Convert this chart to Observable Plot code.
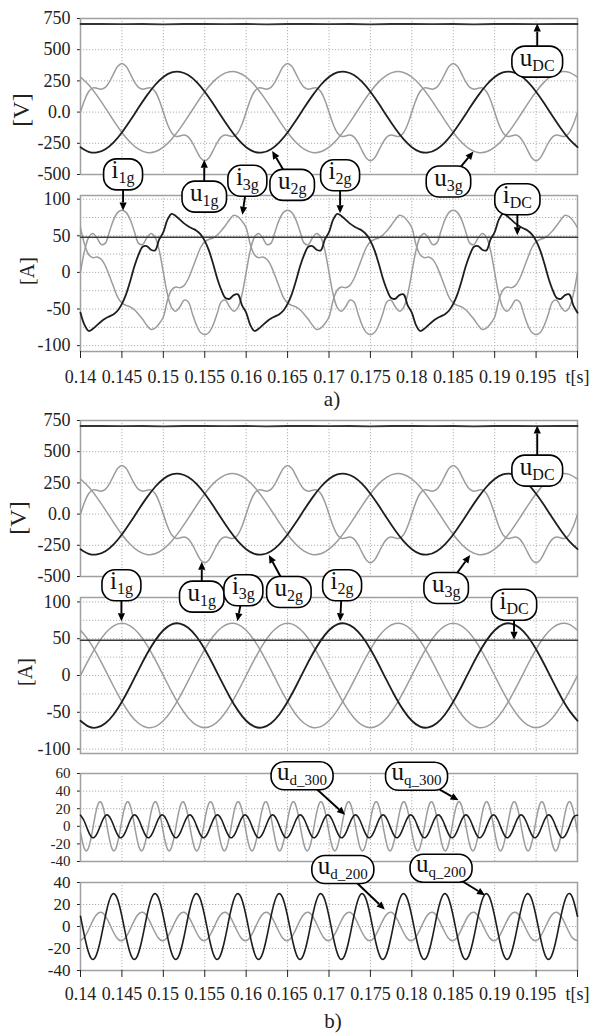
<!DOCTYPE html>
<html><head><meta charset="utf-8">
<script src="https://cdn.jsdelivr.net/npm/d3@7"></script>
<script src="https://cdn.jsdelivr.net/npm/@observablehq/plot@0.6"></script>
<style>
body{margin:0;background:#fff;}
#root{position:relative;width:590px;height:1035px;background:#fff;overflow:hidden;font-family:"Liberation Serif","Times New Roman","DejaVu Serif",serif;}
#root svg{position:absolute;left:0;}
#root svg text{font-family:"Liberation Serif","Times New Roman","DejaVu Serif",serif !important;}
</style></head><body><div id="root"></div>
<script>
// ---------- ticks ----------
const xTicks = [0.14,0.145,0.15,0.155,0.16,0.165,0.17,0.175,0.18,0.185,0.19,0.195,0.2];
const xTickLabels = ["0.14","0.145","0.15","0.155","0.16","0.165","0.17","0.175","0.18","0.185","0.19","0.195","t[s]"];
const vTicks = [-500,-250,0,250,500,750];
const aTicks = [-100,-50,0,50,100];
const aGrid = [-100,-75,-50,-25,0,25,50,75,100];
const s300Ticks = [-40,-20,0,20,40,60];
const s200Ticks = [-40,-20,0,20,40];

// ---------- grid voltages [V], panel a and b (sampled every 0.5 ms / 1 ms from t=0.14 s) ----------
const u1g = [0,97,165,194,191,184,198,244,309,367,390,367,309,244,198,184,191,194,165,97,0,-97,-165,-194,-191,-184,-198,-244,-309,-367,-390,-367,-309,-244,-198,-184,-191,-194,-165,-97,
0,97,165,194,191,184,198,244,309,367,390,367,309,244,198,184,191,194,165,97,0,-97,-165,-194,-191,-184,-198,-244,-309,-367,-390,-367,-309,-244,-198,-184,-191,-194,-165,-97,
0,97,165,194,191,184,198,244,309,367,390,367,309,244,198,184,191,194,165,97,0,-97,-165,-194,-191,-184,-198,-244,-309,-367,-390,-367,-309,-244,-198,-184,-191,-194,-165,-97,0];
const u2g = [-281,-318,-323,-297,-242,-163,-68,34,132,217,281,318,323,297,242,163,68,-34,-132,-217,
-281,-318,-323,-297,-242,-163,-68,34,132,217,281,318,323,297,242,163,68,-34,-132,-217,
-281,-318,-323,-297,-242,-163,-68,34,132,217,281,318,323,297,242,163,68,-34,-132,-217,-281];
const u3g = [281,217,132,34,-68,-163,-242,-297,-323,-318,-281,-217,-132,-34,68,163,242,297,323,318,
281,217,132,34,-68,-163,-242,-297,-323,-318,-281,-217,-132,-34,68,163,242,297,323,318,
281,217,132,34,-68,-163,-242,-297,-323,-318,-281,-217,-132,-34,68,163,242,297,323,318,281];
const uDC = [706,706,705,706,703,706,706,705,706,703,706,706,705,706,703,706,706,705,706,703,706,706,705,706,706];

// ---------- grid currents [A], panel a (every 0.5 ms) ----------
const i1gA = [0,30,48,53,47,38,40,56,72,82,85,82,72,56,40,38,47,53,48,30,0,-30,-48,-53,-47,-38,-40,-56,-72,-82,-85,-82,-72,-56,-40,-38,-47,-53,-48,-30,
0,30,48,53,47,38,40,56,72,82,85,82,72,56,40,38,47,53,48,30,0,-30,-48,-53,-47,-38,-40,-56,-72,-82,-85,-82,-72,-56,-40,-38,-47,-53,-48,-30,
0,30,48,53,47,38,40,56,72,82,85,82,72,56,40,38,47,53,48,30,0,-30,-48,-53,-47,-38,-40,-56,-72,-82,-85,-82,-72,-56,-40,-38,-47,-53,-48,-30,0];
const i2gA = [-55,-72,-80,-77,-72,-67,-63,-60,-57,-52,-43,-30,-12,8,24,35,36,31,30,45,55,72,80,77,72,67,63,60,57,52,43,30,12,-8,-24,-35,-36,-31,-30,-45,
-55,-72,-80,-77,-72,-67,-63,-60,-57,-52,-43,-30,-12,8,24,35,36,31,30,45,55,72,80,77,72,67,63,60,57,52,43,30,12,-8,-24,-35,-36,-31,-30,-45,
-55,-72,-80,-77,-72,-67,-63,-60,-57,-52,-43,-30,-12,8,24,35,36,31,30,45,55,72,80,77,72,67,63,60,57,52,43,30,12,-8,-24,-35,-36,-31,-30,-45,-55];
const i3gA = [61,38,24,20,21,18,9,-5,-20,-34,-42,-45,-47,-51,-57,-64,-72,-78,-76,-70,-61,-38,-24,-20,-21,-18,-9,5,20,34,42,45,47,51,57,64,72,78,76,70,
61,38,24,20,21,18,9,-5,-20,-34,-42,-45,-47,-51,-57,-64,-72,-78,-76,-70,-61,-38,-24,-20,-21,-18,-9,5,20,34,42,45,47,51,57,64,72,78,76,70,
61,38,24,20,21,18,9,-5,-20,-34,-42,-45,-47,-51,-57,-64,-72,-78,-76,-70,-61,-38,-24,-20,-21,-18,-9,5,20,34,42,45,47,51,57,64,72,78,76,70,61];
const iDC = [48,48];

// ---------- grid currents [A], panel b (every 1 ms) ----------
const i1gB = [0,21.9,41.7,57.4,67.5,71,67.5,57.4,41.7,21.9,0,-21.9,-41.7,-57.4,-67.5,-71,-67.5,-57.4,-41.7,-21.9,
0,21.9,41.7,57.4,67.5,71,67.5,57.4,41.7,21.9,0,-21.9,-41.7,-57.4,-67.5,-71,-67.5,-57.4,-41.7,-21.9,
0,21.9,41.7,57.4,67.5,71,67.5,57.4,41.7,21.9,0,-21.9,-41.7,-57.4,-67.5,-71,-67.5,-57.4,-41.7,-21.9,0];
const i2gB = [-61.5,-69.5,-70.6,-64.9,-52.9,-35.6,-14.9,7.4,28.8,47.4,61.5,69.5,70.6,64.9,52.9,35.6,14.9,-7.4,-28.8,-47.4,
-61.5,-69.5,-70.6,-64.9,-52.9,-35.6,-14.9,7.4,28.8,47.4,61.5,69.5,70.6,64.9,52.9,35.6,14.9,-7.4,-28.8,-47.4,
-61.5,-69.5,-70.6,-64.9,-52.9,-35.6,-14.9,7.4,28.8,47.4,61.5,69.5,70.6,64.9,52.9,35.6,14.9,-7.4,-28.8,-47.4,-61.5];
const i3gB = [61.5,47.4,28.8,7.4,-14.9,-35.6,-52.9,-64.9,-70.6,-69.5,-61.5,-47.4,-28.8,-7.4,14.9,35.6,52.9,64.9,70.6,69.5,
61.5,47.4,28.8,7.4,-14.9,-35.6,-52.9,-64.9,-70.6,-69.5,-61.5,-47.4,-28.8,-7.4,14.9,35.6,52.9,64.9,70.6,69.5,
61.5,47.4,28.8,7.4,-14.9,-35.6,-52.9,-64.9,-70.6,-69.5,-61.5,-47.4,-28.8,-7.4,14.9,35.6,52.9,64.9,70.6,69.5,61.5];

// ---------- 300 Hz components (every 1/2400 s) ----------
const ud300 = [12.6,6.6,-3.2,-11.2,-12.6,-6.6,3.2,11.2, 12.6,6.6,-3.2,-11.2,-12.6,-6.6,3.2,11.2, 12.6,6.6,-3.2,-11.2,-12.6,-6.6,3.2,11.2,
12.6,6.6,-3.2,-11.2,-12.6,-6.6,3.2,11.2, 12.6,6.6,-3.2,-11.2,-12.6,-6.6,3.2,11.2, 12.6,6.6,-3.2,-11.2,-12.6,-6.6,3.2,11.2,
12.6,6.6,-3.2,-11.2,-12.6,-6.6,3.2,11.2, 12.6,6.6,-3.2,-11.2,-12.6,-6.6,3.2,11.2, 12.6,6.6,-3.2,-11.2,-12.6,-6.6,3.2,11.2,
12.6,6.6,-3.2,-11.2,-12.6,-6.6,3.2,11.2, 12.6,6.6,-3.2,-11.2,-12.6,-6.6,3.2,11.2, 12.6,6.6,-3.2,-11.2,-12.6,-6.6,3.2,11.2,
12.6,6.6,-3.2,-11.2,-12.6,-6.6,3.2,11.2, 12.6,6.6,-3.2,-11.2,-12.6,-6.6,3.2,11.2, 12.6,6.6,-3.2,-11.2,-12.6,-6.6,3.2,11.2,
12.6,6.6,-3.2,-11.2,-12.6,-6.6,3.2,11.2, 12.6,6.6,-3.2,-11.2,-12.6,-6.6,3.2,11.2, 12.6,6.6,-3.2,-11.2,-12.6,-6.6,3.2,11.2, 12.6];
const uq300 = [-7,-24.1,-27.1,-14.3,7,24.1,27.1,14.3, -7,-24.1,-27.1,-14.3,7,24.1,27.1,14.3, -7,-24.1,-27.1,-14.3,7,24.1,27.1,14.3,
-7,-24.1,-27.1,-14.3,7,24.1,27.1,14.3, -7,-24.1,-27.1,-14.3,7,24.1,27.1,14.3, -7,-24.1,-27.1,-14.3,7,24.1,27.1,14.3,
-7,-24.1,-27.1,-14.3,7,24.1,27.1,14.3, -7,-24.1,-27.1,-14.3,7,24.1,27.1,14.3, -7,-24.1,-27.1,-14.3,7,24.1,27.1,14.3,
-7,-24.1,-27.1,-14.3,7,24.1,27.1,14.3, -7,-24.1,-27.1,-14.3,7,24.1,27.1,14.3, -7,-24.1,-27.1,-14.3,7,24.1,27.1,14.3,
-7,-24.1,-27.1,-14.3,7,24.1,27.1,14.3, -7,-24.1,-27.1,-14.3,7,24.1,27.1,14.3, -7,-24.1,-27.1,-14.3,7,24.1,27.1,14.3,
-7,-24.1,-27.1,-14.3,7,24.1,27.1,14.3, -7,-24.1,-27.1,-14.3,7,24.1,27.1,14.3, -7,-24.1,-27.1,-14.3,7,24.1,27.1,14.3, -7];

// ---------- 200 Hz components (every 1/1600 s) ----------
const uq200 = [9.3,-13.6,-28.5,-26.7,-9.3,13.6,28.5,26.7, 9.3,-13.6,-28.5,-26.7,-9.3,13.6,28.5,26.7, 9.3,-13.6,-28.5,-26.7,-9.3,13.6,28.5,26.7,
9.3,-13.6,-28.5,-26.7,-9.3,13.6,28.5,26.7, 9.3,-13.6,-28.5,-26.7,-9.3,13.6,28.5,26.7, 9.3,-13.6,-28.5,-26.7,-9.3,13.6,28.5,26.7,
9.3,-13.6,-28.5,-26.7,-9.3,13.6,28.5,26.7, 9.3,-13.6,-28.5,-26.7,-9.3,13.6,28.5,26.7, 9.3,-13.6,-28.5,-26.7,-9.3,13.6,28.5,26.7,
9.3,-13.6,-28.5,-26.7,-9.3,13.6,28.5,26.7, 9.3,-13.6,-28.5,-26.7,-9.3,13.6,28.5,26.7, 9.3,-13.6,-28.5,-26.7,-9.3,13.6,28.5,26.7, 9.3];
const ud200 = [-12.9,-8,1.6,10.2,12.9,8,-1.6,-10.2, -12.9,-8,1.6,10.2,12.9,8,-1.6,-10.2, -12.9,-8,1.6,10.2,12.9,8,-1.6,-10.2,
-12.9,-8,1.6,10.2,12.9,8,-1.6,-10.2, -12.9,-8,1.6,10.2,12.9,8,-1.6,-10.2, -12.9,-8,1.6,10.2,12.9,8,-1.6,-10.2,
-12.9,-8,1.6,10.2,12.9,8,-1.6,-10.2, -12.9,-8,1.6,10.2,12.9,8,-1.6,-10.2, -12.9,-8,1.6,10.2,12.9,8,-1.6,-10.2,
-12.9,-8,1.6,10.2,12.9,8,-1.6,-10.2, -12.9,-8,1.6,10.2,12.9,8,-1.6,-10.2, -12.9,-8,1.6,10.2,12.9,8,-1.6,-10.2, -12.9];

// ---------- annotations ----------
const labels = [
  {p:0, m:"u", s:"DC", tip:[0.1952, 705], dx:0, dy:38},
  {p:1, m:"i", s:"1g", tip:[0.1452, 84], dx:0, dy:-36},
  {p:0, m:"u", s:"1g", tip:[0.155, -385], dx:0, dy:37},
  {p:1, m:"i", s:"3g", tip:[0.1596, 78], dx:5, dy:-34},
  {p:0, m:"u", s:"2g", tip:[0.1632, -315], dx:20, dy:34},
  {p:1, m:"i", s:"2g", tip:[0.1714, 80], dx:0, dy:-38},
  {p:0, m:"u", s:"3g", tip:[0.1875, -320], dx:-25, dy:30},
  {p:1, m:"i", s:"DC", tip:[0.1928, 50], dx:0, dy:-36},
  {p:2, m:"u", s:"DC", tip:[0.1952, 705], dx:0, dy:45},
  {p:3, m:"i", s:"1g", tip:[0.1450, 73], dx:0, dy:-36},
  {p:2, m:"u", s:"1g", tip:[0.1547, -385], dx:0, dy:35},
  {p:3, m:"i", s:"3g", tip:[0.1590, 73], dx:6, dy:-31},
  {p:2, m:"u", s:"2g", tip:[0.1628, -332], dx:20, dy:37},
  {p:3, m:"i", s:"2g", tip:[0.1714, 73], dx:2, dy:-36},
  {p:2, m:"u", s:"3g", tip:[0.1871, -332], dx:-24, dy:33},
  {p:3, m:"i", s:"DC", tip:[0.1924, 48], dx:0, dy:-35},
  {p:4, m:"u", s:"d_300", tip:[0.172, 12.5], dx:-43, dy:-39},
  {p:4, m:"u", s:"q_300", tip:[0.1857, 29], dx:-42, dy:-24},
  {p:5, m:"u", s:"d_200", tip:[0.1768, 15], dx:-42, dy:-40},
  {p:5, m:"u", s:"q_200", tip:[0.1889, 28], dx:-44, dy:-27}
];

// ---------- rendering ----------
const FONT = '"Liberation Serif","Times New Roman","DejaVu Serif",serif';
const BLACK = "#1e1e1e", GRAY = "#9c9c9c";
const rows = (vals, t0, dt) => vals.map((v, i) => ({t: t0 + i * dt, v}));
const lbl = new Map(xTicks.map((d, i) => [d, xTickLabels[i]]));
const hy = d => String(d).replace("\u2212", "-");

const root = document.getElementById("root");
const panels = [];

function panel({top, bottom, domain, ticks, grid, fmt, lines, xAxis, pad, fs = 18}) {
  const mt = 12, mb = xAxis ? 45 : 12;
  const marks = [
    Plot.gridX(xTicks.slice(1, -1), {stroke: "#b0b0b0", strokeOpacity: 1, strokeDasharray: "1.2,1.8", strokeWidth: 1}),
    Plot.gridY(grid.filter(d => d > domain[0] && d < domain[1]), {stroke: "#b0b0b0", strokeOpacity: 1, strokeDasharray: "1.2,1.8", strokeWidth: 1}),
    Plot.axisY(ticks, {tickSize: 3, tickPadding: 7, tickFormat: fmt, fontSize: fs, fontFamily: FONT, color: "#222", label: null}),
    Plot.frame({stroke: "#a0a0a0", strokeWidth: 1.5})
  ];
  for (const L of lines) {
    marks.push(Plot.line(L.data, {x: "t", y: "v", stroke: L.stroke, strokeWidth: L.w, curve: L.curve}));
  }
  if (xAxis) {
    marks.push(Plot.axisX(xTicks, {tickSize: 7, tickPadding: pad, tickFormat: d => lbl.get(d), fontSize: 18, fontFamily: FONT, color: "#222", label: null}));
  }
  const chart = Plot.plot({
    width: 590, height: (bottom - top) + mt + mb,
    marginLeft: 80, marginRight: 13, marginTop: mt, marginBottom: mb,
    x: {domain: [0.14, 0.2], axis: xAxis ? undefined : null},
    y: {domain},
    style: {background: "transparent", overflow: "visible", fontFamily: FONT},
    marks
  });
  chart.style.top = (top - mt) + "px";
  root.appendChild(chart);
  panels.push({chart, off: top - mt});
}

const vFmt = d => d === 0 ? "0.0" : hy(d);
const vLines = [
  {data: rows(uDC, 0.14, 0.0025), stroke: "#333", w: 1.8, curve: "linear"},
  {data: rows(u3g, 0.14, 0.001), stroke: GRAY, w: 1.5, curve: "natural"},
  {data: rows(u1g, 0.14, 0.0005), stroke: GRAY, w: 1.5, curve: "catmull-rom"},
  {data: rows(u2g, 0.14, 0.001), stroke: BLACK, w: 1.8, curve: "natural"}
];

panel({top: 18, bottom: 174, domain: [-500, 750], ticks: vTicks, grid: vTicks, fmt: vFmt, lines: vLines});
panel({top: 195, bottom: 351, domain: [-108, 105], ticks: aTicks, grid: aGrid, fmt: hy, xAxis: true, pad: 12, lines: [
  {data: rows(i1gA, 0.14, 0.0005), stroke: GRAY, w: 1.5, curve: "catmull-rom"},
  {data: rows(i3gA, 0.14, 0.0005), stroke: GRAY, w: 1.5, curve: "catmull-rom"},
  {data: rows(iDC, 0.14, 0.06), stroke: "#3a3a3a", w: 1.6, curve: "linear"},
  {data: rows(i2gA, 0.14, 0.0005), stroke: BLACK, w: 1.8, curve: "catmull-rom"}
]});
panel({top: 420, bottom: 576, domain: [-500, 750], ticks: vTicks, grid: vTicks, fmt: vFmt, lines: vLines});
panel({top: 597, bottom: 753, domain: [-106, 106], ticks: aTicks, grid: aGrid, fmt: hy, lines: [
  {data: rows(i1gB, 0.14, 0.001), stroke: GRAY, w: 1.5, curve: "natural"},
  {data: rows(i3gB, 0.14, 0.001), stroke: GRAY, w: 1.5, curve: "natural"},
  {data: rows(iDC, 0.14, 0.06), stroke: "#3a3a3a", w: 1.6, curve: "linear"},
  {data: rows(i2gB, 0.14, 0.001), stroke: BLACK, w: 1.8, curve: "natural"}
]});
panel({top: 773, bottom: 861, domain: [-40, 60], ticks: s300Ticks, grid: s300Ticks, fmt: hy, fs: 15, lines: [
  {data: rows(uq300, 0.14, 1 / 2400), stroke: GRAY, w: 1.5, curve: "natural"},
  {data: rows(ud300, 0.14, 1 / 2400), stroke: BLACK, w: 1.6, curve: "natural"}
]});
panel({top: 882, bottom: 970, domain: [-40, 40], ticks: s200Ticks, grid: s200Ticks, fmt: hy, fs: 17, xAxis: true, pad: 10, lines: [
  {data: rows(ud200, 0.14, 1 / 1600), stroke: GRAY, w: 1.5, curve: "natural"},
  {data: rows(uq200, 0.14, 1 / 1600), stroke: BLACK, w: 1.6, curve: "natural"}
]});

// ---------- overlay: axis titles, panel captions, callouts ----------
const ov = d3.select(root).append("svg")
  .attr("width", 590).attr("height", 1035)
  .style("top", "0px").style("overflow", "visible")
  .attr("font-family", FONT);

const yTitles = [
  {t: "[V]", x: 21, y: 110, fs: 24},
  {t: "[A]", x: 27, y: 271, fs: 20},
  {t: "[V]", x: 18, y: 518, fs: 24},
  {t: "[A]", x: 25, y: 672, fs: 20}
];
for (const d of yTitles) {
  ov.append("text").attr("transform", `translate(${d.x},${d.y}) rotate(-90)`)
    .attr("text-anchor", "middle").attr("dy", "0.35em").attr("font-family", FONT)
    .attr("font-size", d.fs).attr("fill", "#222").text(d.t);
}
ov.append("text").attr("x", 332).attr("y", 406).attr("text-anchor", "middle").attr("font-family", FONT).attr("font-size", 21).attr("fill", "#222").text("a)");
ov.append("text").attr("x", 333).attr("y", 1028).attr("text-anchor", "middle").attr("font-family", FONT).attr("font-size", 21).attr("fill", "#222").text("b)");

for (const L of labels) {
  const P = panels[L.p];
  const tx = P.chart.scale("x").apply(L.tip[0]);
  const ty = P.chart.scale("y").apply(L.tip[1]) + P.off;
  const cx = tx + L.dx, cy = ty + L.dy;
  const g = ov.append("g");
  const ang = Math.atan2(ty - cy, tx - cx);
  const hl = 8, hw = 3.6;
  const bx = tx - hl * Math.cos(ang), by = ty - hl * Math.sin(ang);
  g.append("line").attr("x1", cx).attr("y1", cy).attr("x2", bx).attr("y2", by)
    .attr("stroke", "#000").attr("stroke-width", 1.9);
  const px = -Math.sin(ang), py = Math.cos(ang);
  g.append("path").attr("d", `M${tx},${ty}L${bx + px * hw},${by + py * hw}L${bx - px * hw},${by - py * hw}Z`).attr("fill", "#000");
  const rect = g.append("rect");
  const small = L.s.length > 2;
  const txt = g.append("text").attr("x", cx).attr("y", cy + 4).attr("text-anchor", "middle").attr("font-family", FONT).attr("fill", "#111");
  txt.append("tspan").attr("font-size", 25).text(L.m);
  txt.append("tspan").attr("font-size", small ? 15 : 16).attr("dy", 5).text(L.s);
  const bb = txt.node().getBBox();
  const w = bb.width + (small ? 12 : 16), h = small ? 28 : 31;
  rect.attr("x", cx - w / 2).attr("y", cy - h / 2).attr("width", w).attr("height", h)
    .attr("rx", 13).attr("ry", 13).attr("fill", "#fff").attr("stroke", "#000").attr("stroke-width", 1.6);
}
</script></body></html>
